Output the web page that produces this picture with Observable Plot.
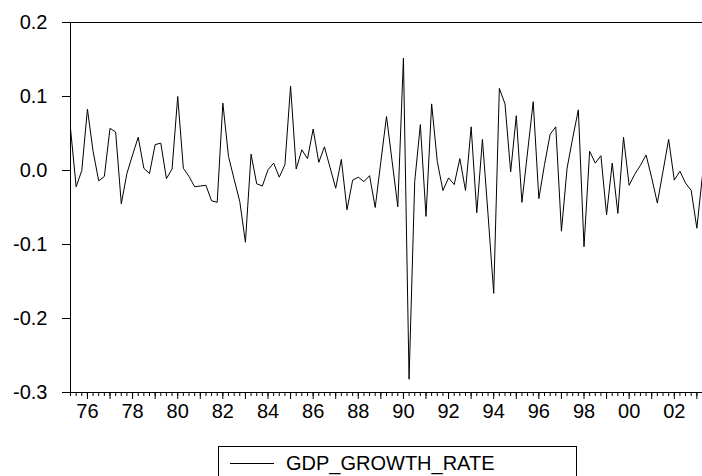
<!DOCTYPE html>
<html><head><meta charset="utf-8">
<script src="https://cdn.jsdelivr.net/npm/d3@7"></script>
<script src="https://cdn.jsdelivr.net/npm/@observablehq/plot@0.6"></script>
<style>
body{margin:0;background:#fff;}
#wrap{position:relative;width:702px;height:476px;overflow:hidden;background:#fff;font-family:"Liberation Sans",Arial,sans-serif;}
#legend{position:absolute;left:218px;top:446px;width:359px;height:40px;border:1px solid #000;box-sizing:border-box;background:#fff;}
#legend svg{position:absolute;left:0;top:0;}
</style></head><body><div id="wrap"></div>
<script>
const startYear = 1975, startQuarter = 2;
const gdpGrowth = [
  0.057,-0.022,0.000,0.083,0.026,-0.014,-0.008,0.057,0.052,-0.045,
 -0.004,0.021,0.045,0.003,-0.004,0.035,0.037,-0.011,0.002,0.100,
  0.003,-0.008,-0.022,-0.021,-0.020,-0.041,-0.043,0.091,0.019,-0.012,
 -0.042,-0.097,0.022,-0.018,-0.021,0.001,0.010,-0.009,0.008,0.114,
  0.002,0.028,0.016,0.056,0.011,0.032,0.004,-0.024,0.015,-0.053,
 -0.013,-0.009,-0.015,-0.007,-0.050,0.012,0.073,0.012,-0.049,0.152,
 -0.282,-0.015,0.062,-0.062,0.090,0.012,-0.027,-0.010,-0.019,0.016,
 -0.027,0.059,-0.057,0.042,-0.060,-0.166,0.111,0.090,-0.002,0.074,
 -0.043,0.025,0.093,-0.038,0.008,0.049,0.059,-0.082,0.003,0.044,
  0.082,-0.103,0.026,0.010,0.020,-0.060,0.010,-0.058,0.045,-0.020,
 -0.005,0.007,0.021,-0.010,-0.044,-0.001,0.042,-0.013,-0.001,-0.017,
 -0.027,-0.078,-0.006
];
const yTicks = [-0.3,-0.2,-0.1,0.0,0.1,0.2];
const labelYears = [1976,1978,1980,1982,1984,1986,1988,1990,1992,1994,1996,1998,2000,2002];
const tickLabels = ["76","78","80","82","84","86","88","90","92","94","96","98","00","02"];
const seriesName = "GDP_GROWTH_RATE";

const data = gdpGrowth.map((v, i) => ({t: startYear + (startQuarter - 1) / 4 + i / 4, v}));
const t0 = data[0].t, t1 = data[data.length - 1].t;
const quarterTicks = d3.range(0, data.length).map(i => t0 + i / 4);
const yearTicks = d3.range(Math.ceil(t0), Math.floor(t1) + 1);
const font = "'Liberation Sans', Arial, sans-serif";

const plot = Plot.plot({
  width: 702, height: 446,
  marginLeft: 70, marginRight: 0, marginTop: 22, marginBottom: 54,
  style: {fontFamily: font, fontSize: "20px", color: "#000", background: "#fff", overflow: "visible"},
  x: {domain: [t0, t1]},
  y: {domain: [-0.3, 0.2]},
  marks: [
    Plot.frame({stroke: "#000"}),
    Plot.axisY({ticks: yTicks, tickSize: 8, tickPadding: 15, tickFormat: d => d.toFixed(1), label: null, fontSize: 20}),
    Plot.axisX({ticks: quarterTicks, tickSize: 4, tickFormat: () => "", label: null}),
    Plot.axisX({ticks: yearTicks, tickSize: 7, tickFormat: () => "", label: null}),
    Plot.axisX({ticks: labelYears, tickSize: 0, tickPadding: 11, tickFormat: d => tickLabels[labelYears.indexOf(d)], label: null, fontSize: 20}),
    Plot.line(data, {x: "t", y: "v", stroke: "#000", strokeWidth: 1})
  ]
});
const wrap = document.getElementById("wrap");
wrap.appendChild(plot);

const legend = document.createElement("div");
legend.id = "legend";
legend.innerHTML = `<svg width="359" height="40"><line x1="11" x2="55" y1="16.5" y2="16.5" stroke="#000" stroke-width="1"/><text x="67" y="23" font-family="${font}" font-size="20" fill="#000">${seriesName}</text></svg>`;
wrap.appendChild(legend);
</script></body></html>
